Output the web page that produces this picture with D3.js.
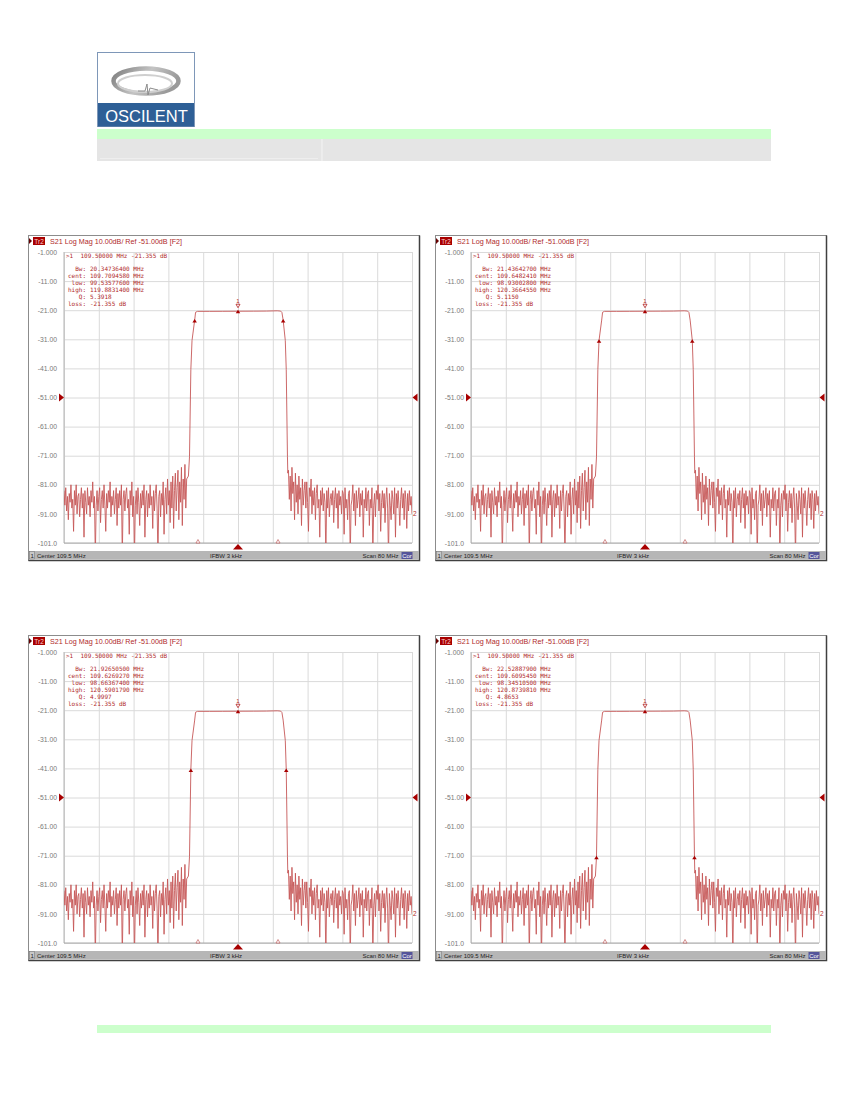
<!DOCTYPE html>
<html>
<head>
<meta charset="utf-8">
<script src="https://cdn.jsdelivr.net/npm/d3@7"></script>
<style>
  body { margin: 0; background: #fff; }
</style>
</head>
<body>
<script>
// ---- sweep settings (same for all four screens)
const startFreq = 69.5;   // MHz
const stopFreq = 149.5;   // MHz
const noiseStep = 0.2;    // MHz between noise points
const xTicks = [69.5, 77.5, 85.5, 93.5, 101.5, 109.5, 117.5, 125.5, 133.5, 141.5, 149.5];
const yTicks = [-1, -11, -21, -31, -41, -51, -61, -71, -81, -91, -101];
const yTickLabels = ["-1.000", "-11.00", "-21.00", "-31.00", "-41.00", "-51.00", "-61.00", "-71.00", "-81.00", "-91.00", "-101.0"];
const refLevel = -51;

// ---- S21 trace, read off the screens (dB)
// stop band below the filter, starting at 69.5 MHz
const leftNoise = [
  -83, -88, -82, -90, -85, -93, -84, -87, -81, -89,
  -86, -97, -83, -88, -81, -91, -85, -84, -92, -86,
  -82, -89, -84, -99, -83, -87, -91, -82, -88, -85,
  -92, -83, -87, -80, -89, -85, -106, -88, -83, -90,
  -85, -82, -94, -86, -83, -89, -81, -88, -97, -84,
  -89, -83, -87, -80, -92, -85, -88, -83, -91, -86,
  -82, -95, -84, -89, -83, -88, -81, -106, -86, -83,
  -90, -84, -82, -89, -86, -98, -83, -88, -80, -92,
  -85, -106, -88, -83, -91, -82, -87, -95, -84, -89,
  -83, -88, -81, -99, -86, -83, -92, -84, -89, -81,
  -88, -85, -96, -83, -90, -84, -81, -89, -106, -85,
  -83, -92, -84, -88, -80, -98, -86, -82, -91, -79,
  -88, -83, -94, -80, -89, -78, -96, -83, -77, -90,
  -82, -76, -93, -80, -87, -75, -95, -79, -86, -74,
  -89, -79
];
// skirts + pass band
const passFreqs = [98.1, 98.35, 98.66, 98.93, 99.54, 99.75, 100.2, 103, 106, 109.5, 113, 116, 118.5, 119.3, 119.6, 119.88, 120.37, 120.59, 120.87, 120.95];
const passLevels = [-78, -71.4, -41.4, -31.4, -24.4, -21.7, -21.4, -21.4, -21.38, -21.355, -21.33, -21.3, -21.2, -21.3, -21.8, -24.4, -31.4, -41.4, -71.4, -77];
// stop band above the filter, starting at 121.1 MHz
const rightNoise = [
  -76, -86, -78, -90, -75, -84, -80, -93, -77, -87,
  -81, -91, -78, -86, -82, -95, -79, -88, -83, -80,
  -89, -80, -87, -97, -82, -85, -79, -91, -83, -88,
  -82, -93, -84, -81, -89, -86, -99, -83, -88, -82,
  -90, -84, -87, -106, -83, -89, -82, -92, -86, -84,
  -88, -83, -94, -86, -82, -89, -84, -96, -83, -88,
  -85, -91, -83, -84, -98, -82, -89, -86, -93, -84,
  -83, -106, -88, -86, -81, -90, -84, -95, -83, -89,
  -86, -82, -92, -84, -88, -83, -99, -86, -89, -82,
  -90, -84, -83, -95, -86, -89, -82, -106, -88, -84,
  -92, -83, -86, -81, -90, -84, -97, -87, -83, -89,
  -84, -94, -86, -82, -89, -106, -84, -88, -93, -83,
  -86, -91, -82, -99, -84, -89, -83, -88, -95, -86,
  -82, -89, -84, -93, -83, -86, -96, -84, -90, -83,
  -88, -85, -91
];
const rightNoiseStart = 121.1;

// ---- the four screens: bandwidth search at 3, 10, 20 and 50 dB down
const screenNames = ["bw3", "bw10", "bw20", "bw50"];
const bwValues = ["20.34736400", "21.43642700", "21.92650500", "22.52887900"];
const centValues = ["109.7094580", "109.6482410", "109.6269270", "109.6095450"];
const lowValues = ["99.53577600", "98.93002800", "98.66367400", "98.34510500"];
const highValues = ["119.8831400", "120.3664550", "120.5901790", "120.8739810"];
const qValues = ["5.3918", "5.1150", "4.9997", "4.8653"];
const searchLevels = [-24.355, -31.355, -41.355, -71.355];
const markerFreq = 109.5;
const markerLevel = -21.355;
const lossText = "-21.355 dB";
const bottomMarks = [100.3, 118.7];

const screenOffsets = [[0, 0], [407, 0], [0, 400], [407, 400]];

const sans = "Liberation Sans, Arial, sans-serif";
const mono = "DejaVu Sans Mono, monospace";

const svg = d3.select("body").append("svg")
  .attr("width", 850)
  .attr("height", 1100)
  .attr("font-family", sans);

// ---------- page header ----------
const defs = svg.append("defs");
const grad = defs.append("linearGradient").attr("id", "sw")
  .attr("x1", "0%").attr("x2", "100%").attr("y1", "0%").attr("y2", "30%");
grad.append("stop").attr("offset", "0%").attr("stop-color", "#7d7d7d");
grad.append("stop").attr("offset", "55%").attr("stop-color", "#c4c4c4");
grad.append("stop").attr("offset", "100%").attr("stop-color", "#9a9a9a");

const logo = svg.append("g");
logo.append("rect").attr("x", 97.5).attr("y", 52.5).attr("width", 97).attr("height", 74)
  .attr("fill", "#fff").attr("stroke", "#7e97b8");
logo.append("ellipse").attr("cx", 146).attr("cy", 81).attr("rx", 32.5).attr("ry", 12.5)
  .attr("fill", "none").attr("stroke", "url(#sw)").attr("stroke-width", 4.5);
logo.append("ellipse").attr("cx", 145).attr("cy", 83.5).attr("rx", 27).attr("ry", 8.5)
  .attr("fill", "none").attr("stroke", "#cfcfcf").attr("stroke-width", 2);
logo.append("path").attr("d", "M138,91 L145,91 L147,84 L148,95 L150,88 L158,90")
  .attr("fill", "none").attr("stroke", "#8c8c8c").attr("stroke-width", 1);
logo.append("rect").attr("x", 98).attr("y", 103).attr("width", 96).attr("height", 23.5)
  .attr("fill", "#2e5f96");
logo.append("text").attr("x", 146.5).attr("y", 121.5).attr("text-anchor", "middle")
  .attr("font-size", 16.5).attr("fill", "#fff").text("OSCILENT");

svg.append("rect").attr("x", 97).attr("y", 129).attr("width", 674).attr("height", 10).attr("fill", "#ccffcc");
svg.append("rect").attr("x", 97).attr("y", 139).attr("width", 674).attr("height", 22).attr("fill", "#e5e5e5");
svg.append("line").attr("x1", 322).attr("x2", 322).attr("y1", 139).attr("y2", 161).attr("stroke", "#f4f4f4");
svg.append("line").attr("x1", 100).attr("x2", 318).attr("y1", 158.5).attr("y2", 158.5).attr("stroke", "#eeeeee");
svg.append("rect").attr("x", 97).attr("y", 1025).attr("width", 674).attr("height", 8).attr("fill", "#ccffcc");

// ---------- analyzer screens ----------
const x = d3.scaleLinear().domain([startFreq, stopFreq]).range([64, 412]);
const y = d3.scaleLinear().domain([-101, -1]).range([543, 252]);

const tracePoints = [];
leftNoise.forEach((v, i) => tracePoints.push([startFreq + i * noiseStep, v]));
passFreqs.forEach((f, i) => tracePoints.push([f, passLevels[i]]));
rightNoise.forEach((v, i) => tracePoints.push([rightNoiseStart + i * noiseStep, v]));

const traceLine = d3.line().x(d => x(d[0])).y(d => y(d[1]));

const dark = "#a80000";
const textRed = "#b02a2a";

defs.append("clipPath").attr("id", "plotClip")
  .append("rect").attr("x", 64).attr("y", 250).attr("width", 348).attr("height", 293);

function tri(cx, cy, w, h, dir) {
  // apex at (cx, cy)
  if (dir == "up") return `M${cx},${cy} L${cx - w / 2},${cy + h} L${cx + w / 2},${cy + h} Z`;
  if (dir == "down") return `M${cx},${cy} L${cx - w / 2},${cy - h} L${cx + w / 2},${cy - h} Z`;
  if (dir == "right") return `M${cx},${cy} L${cx - h},${cy - w / 2} L${cx - h},${cy + w / 2} Z`;
  return `M${cx},${cy} L${cx + h},${cy - w / 2} L${cx + h},${cy + w / 2} Z`;
}

screenNames.forEach((name, k) => {
  const g = svg.append("g").attr("class", name)
    .attr("transform", `translate(${screenOffsets[k][0]},${screenOffsets[k][1]})`);

  // window frame
  g.append("rect").attr("x", 28.5).attr("y", 235.5).attr("width", 391).attr("height", 325)
    .attr("fill", "#fff").attr("stroke", "#8c8c8c");
  g.append("path").attr("d", "M419.5,235.5 L419.5,560.5 L28.5,560.5")
    .attr("fill", "none").attr("stroke", "#404040").attr("stroke-width", 1.5);

  // title line
  g.append("path").attr("d", tri(32, 241, 6, 3, "right")).attr("fill", "#600");
  g.append("rect").attr("x", 33).attr("y", 237).attr("width", 12).attr("height", 8).attr("fill", dark);
  g.append("text").attr("x", 39).attr("y", 243.5).attr("text-anchor", "middle")
    .attr("font-size", 6.5).attr("fill", "#ffd0d0").text("Tr2");
  g.append("text").attr("x", 50).attr("y", 244).attr("font-size", 7).attr("fill", textRed)
    .attr("textLength", 132).attr("lengthAdjust", "spacingAndGlyphs")
    .text("S21 Log Mag 10.00dB/ Ref -51.00dB [F2]");

  // grid
  g.append("g").attr("transform", "translate(0,543)")
    .call(d3.axisBottom(x).tickValues(xTicks).tickSize(-291).tickFormat(""))
    .call(a => a.select(".domain").remove())
    .call(a => a.selectAll("line").attr("stroke", "#dadada"));
  g.append("g").attr("transform", "translate(64,0)")
    .call(d3.axisLeft(y).tickValues(yTicks).tickSize(-348).tickPadding(7)
      .tickFormat((d, i) => yTickLabels[i]))
    .call(a => a.select(".domain").remove())
    .call(a => a.selectAll("line").attr("stroke", "#dadada"))
    .call(a => a.selectAll("text").attr("fill", "#7a7a7a").attr("font-size", 6.8)
      .attr("font-family", sans));
  g.append("line").attr("x1", 64).attr("x2", 64).attr("y1", 252).attr("y2", 543).attr("stroke", "#b4b4b4");
  g.append("line").attr("x1", 64).attr("x2", 412).attr("y1", 543).attr("y2", 543).attr("stroke", "#a8a8a8");

  // trace
  g.append("path").datum(tracePoints)
    .attr("clip-path", "url(#plotClip)")
    .attr("d", traceLine)
    .attr("fill", "none").attr("stroke", "#c65858").attr("stroke-width", 0.9);
  const last = tracePoints[tracePoints.length - 1];
  g.append("text").attr("x", 413).attr("y", y(last[1]) + 2.5).attr("font-size", 6.5)
    .attr("fill", textRed).text("2");

  // reference level arrows
  g.append("path").attr("d", tri(64, y(refLevel), 8, 5, "right")).attr("fill", dark);
  g.append("path").attr("d", tri(412.5, y(refLevel), 8, 5, "left")).attr("fill", dark);

  // bandwidth search markers
  [lowValues[k], highValues[k]].forEach(f => {
    g.append("path").attr("d", tri(x(+f), y(searchLevels[k]) - 1, 4.5, 3.5, "up")).attr("fill", dark);
  });
  // marker 1
  g.append("path").attr("d", tri(x(markerFreq), y(markerLevel) - 1.5, 4.5, 3.5, "up")).attr("fill", dark);
  g.append("path").attr("d", tri(x(markerFreq), y(markerLevel) - 3.5, 4, 3.5, "down"))
    .attr("fill", "#fff").attr("stroke", dark).attr("stroke-width", 0.7);
  g.append("text").attr("x", x(markerFreq)).attr("y", y(markerLevel) - 8)
    .attr("text-anchor", "middle").attr("font-size", 6).attr("fill", textRed).text("1");

  // stimulus marks on the bottom edge
  g.append("path").attr("d", tri(x(markerFreq), 544, 10, 5.5, "up")).attr("fill", dark);
  bottomMarks.forEach(f => {
    g.append("path").attr("d", tri(x(f), 539.5, 4, 3.5, "up"))
      .attr("fill", "#fff").attr("stroke", "#c06060").attr("stroke-width", 0.7);
  });

  // marker readout
  const info = g.append("g").attr("fill", textRed).attr("font-size", 6).attr("font-family", mono);
  info.append("text").attr("x", 66).attr("y", 258).attr("xml:space", "preserve")
    .text(">1  109.50000 MHz -21.355 dB");
  const labels = ["Bw:", "cent:", "low:", "high:", "Q:", "loss:"];
  const vals = [bwValues[k] + " MHz", centValues[k] + " MHz", lowValues[k] + " MHz",
    highValues[k] + " MHz", qValues[k], lossText];
  labels.forEach((l, i) => {
    info.append("text").attr("x", 86).attr("y", 270.5 + i * 7).attr("text-anchor", "end").text(l);
    info.append("text").attr("x", 90).attr("y", 270.5 + i * 7).text(vals[i]);
  });

  // status bar
  g.append("rect").attr("x", 29).attr("y", 551).attr("width", 390).attr("height", 8.5).attr("fill", "#b6b6b6");
  g.append("rect").attr("x", 29.5).attr("y", 551.5).attr("width", 5).attr("height", 7.5)
    .attr("fill", "#c8c8c8").attr("stroke", "#707070").attr("stroke-width", 0.5);
  const status = g.append("g").attr("font-size", 6).attr("fill", "#222");
  status.append("text").attr("x", 30.5).attr("y", 557.5).text("1");
  status.append("text").attr("x", 37).attr("y", 557.5).text("Center 109.5 MHz");
  status.append("text").attr("x", 210).attr("y", 557.5).text("IFBW 3 kHz");
  status.append("text").attr("x", 398.5).attr("y", 557.5).attr("text-anchor", "end").text("Scan 80 MHz");
  g.append("rect").attr("x", 401.5).attr("y", 552).attr("width", 11).attr("height", 7).attr("fill", "#55559a");
  g.append("text").attr("x", 407).attr("y", 557.5).attr("text-anchor", "middle")
    .attr("font-size", 6).attr("fill", "#fff").text("Cor");
});
</script>
</body>
</html>
